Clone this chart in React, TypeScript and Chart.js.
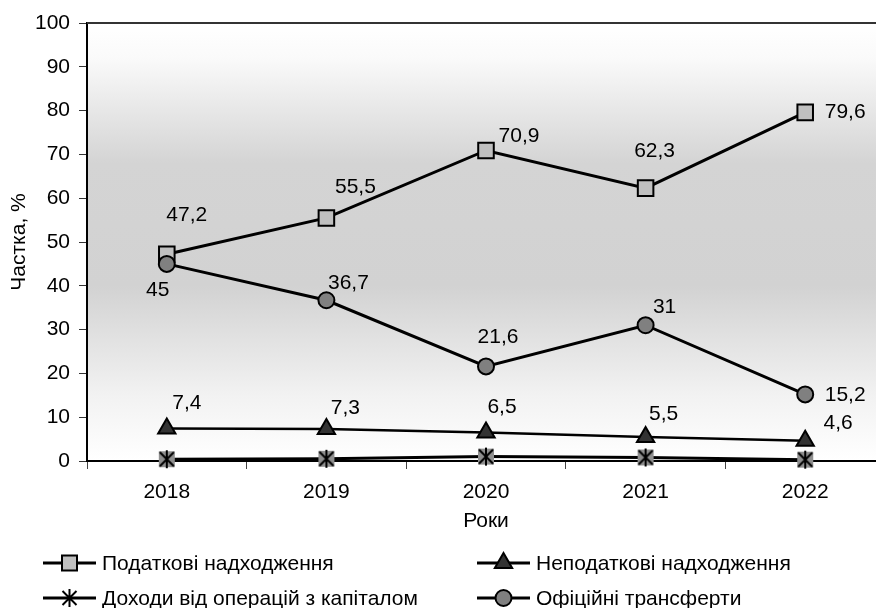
import React, { useEffect, useRef } from "react";
import { Chart, registerables } from "chart.js";

Chart.register(...registerables);

// ---- data ----
const years = ["2018", "2019", "2020", "2021", "2022"];
const taxRevenue = [47.2, 55.5, 70.9, 62.3, 79.6];
const nonTaxRevenue = [7.4, 7.3, 6.5, 5.5, 4.6];
const capitalIncome = [0.4, 0.5, 1.0, 0.8, 0.3];
const officialTransfers = [45, 36.7, 21.6, 31, 15.2];

const seriesNames = [
  "Податкові надходження",
  "Неподаткові надходження",
  "Доходи від операцій з капіталом",
  "Офіційні трансферти",
];

// label placement relative to each point (dx, dy in px)
const taxLabelOffsets = [[20, -39], [29, -31], [33, -14], [9, -37], [40, 0]];
const nonTaxLabelOffsets = [[20, -25], [19, -21], [16, -25], [18, -23], [33, -18]];
const transferLabelOffsets = [[-9, 26], [22, -17], [12, -29], [19, -18], [40, 1]];

const FONT = "'Liberation Sans', Arial, sans-serif";
const FONT_SIZE = 21;

const fmt = (v: number) => String(v).replace(".", ",");

// star marker on a grey square, used for the capital-income series
function makeCapitalMarker(withSquare: boolean): HTMLCanvasElement {
  const c = document.createElement("canvas");
  c.width = 20;
  c.height = 20;
  const g = c.getContext("2d")!;
  if (withSquare) {
    g.fillStyle = "#8f8f8f";
    g.fillRect(2, 2, 16, 16);
  }
  g.strokeStyle = "#000";
  g.lineWidth = 2;
  g.beginPath();
  g.moveTo(3, 3);
  g.lineTo(17, 17);
  g.moveTo(17, 3);
  g.lineTo(3, 17);
  g.moveTo(10, 1);
  g.lineTo(10, 19);
  g.stroke();
  return c;
}

function drawMarker(ctx: CanvasRenderingContext2D, kind: string, x: number, y: number) {
  ctx.save();
  ctx.strokeStyle = "#000";
  ctx.lineWidth = 2;
  if (kind === "square") {
    ctx.fillStyle = "#c0c0c0";
    ctx.fillRect(x - 7.5, y - 7.5, 15, 15);
    ctx.strokeRect(x - 7.5, y - 7.5, 15, 15);
  } else if (kind === "triangle") {
    const r = 10;
    ctx.fillStyle = "#333333";
    ctx.beginPath();
    ctx.moveTo(x, y - r);
    ctx.lineTo(x + r * 0.866, y + r / 2);
    ctx.lineTo(x - r * 0.866, y + r / 2);
    ctx.closePath();
    ctx.fill();
    ctx.stroke();
  } else if (kind === "circle") {
    ctx.fillStyle = "#808080";
    ctx.beginPath();
    ctx.arc(x, y, 8, 0, Math.PI * 2);
    ctx.fill();
    ctx.stroke();
  } else {
    ctx.beginPath();
    ctx.moveTo(x - 7, y - 7);
    ctx.lineTo(x + 7, y + 7);
    ctx.moveTo(x + 7, y - 7);
    ctx.lineTo(x - 7, y + 7);
    ctx.moveTo(x, y - 9);
    ctx.lineTo(x, y + 9);
    ctx.stroke();
  }
  ctx.restore();
}

const backgroundPlugin = {
  id: "areaGradient",
  beforeDraw(chart: any) {
    const { ctx, chartArea: a } = chart;
    const grad = ctx.createLinearGradient(0, a.top, 0, a.bottom);
    grad.addColorStop(0, "#ffffff");
    grad.addColorStop(0.08, "#fafafa");
    grad.addColorStop(0.32, "#d4d4d4");
    grad.addColorStop(0.6, "#d2d2d2");
    grad.addColorStop(0.85, "#f2f2f2");
    grad.addColorStop(1, "#ffffff");
    ctx.save();
    ctx.fillStyle = grad;
    ctx.fillRect(a.left, a.top, a.right - a.left, a.bottom - a.top);
    ctx.restore();
  },
  afterDraw(chart: any) {
    const { ctx, chartArea: a } = chart;
    ctx.save();
    ctx.strokeStyle = "#333333";
    ctx.lineWidth = 2;
    ctx.beginPath();
    ctx.moveTo(a.left, a.top);
    ctx.lineTo(a.right, a.top);
    ctx.stroke();
    ctx.restore();
  },
};

const valueLabelPlugin = {
  id: "valueLabels",
  afterDatasetsDraw(chart: any) {
    const { ctx } = chart;
    const sets: [number, number[][]][] = [
      [0, taxLabelOffsets],
      [1, nonTaxLabelOffsets],
      [3, transferLabelOffsets],
    ];
    ctx.save();
    ctx.font = `${FONT_SIZE}px ${FONT}`;
    ctx.fillStyle = "#000";
    ctx.textAlign = "center";
    ctx.textBaseline = "middle";
    for (const [di, offs] of sets) {
      const meta = chart.getDatasetMeta(di);
      const values = chart.data.datasets[di].data as number[];
      meta.data.forEach((pt: any, j: number) => {
        ctx.fillText(fmt(values[j]), pt.x + offs[j][0], pt.y + offs[j][1]);
      });
    }
    ctx.restore();
  },
};

const legendPlugin = {
  id: "gridLegend",
  afterDraw(chart: any) {
    const { ctx } = chart;
    const items = [
      { name: seriesNames[0], kind: "square", x: 43, y: 563 },
      { name: seriesNames[1], kind: "triangle", x: 477, y: 563 },
      { name: seriesNames[2], kind: "star", x: 43, y: 598 },
      { name: seriesNames[3], kind: "circle", x: 477, y: 598 },
    ];
    ctx.save();
    ctx.font = `${FONT_SIZE}px ${FONT}`;
    ctx.textAlign = "left";
    ctx.textBaseline = "middle";
    for (const it of items) {
      ctx.strokeStyle = "#000";
      ctx.lineWidth = 3;
      ctx.beginPath();
      ctx.moveTo(it.x, it.y);
      ctx.lineTo(it.x + 53, it.y);
      ctx.stroke();
      drawMarker(ctx, it.kind, it.x + 26.5, it.y);
      ctx.fillStyle = "#000";
      ctx.fillText(it.name, it.x + 59, it.y + 1);
    }
    ctx.restore();
  },
};

export default function App() {
  const canvasRef = useRef<HTMLCanvasElement | null>(null);

  useEffect(() => {
    const canvas = canvasRef.current;
    if (!canvas) return;
    const font = { family: FONT, size: FONT_SIZE };
    const capitalMarker = makeCapitalMarker(true);

    const chart = new Chart(canvas, {
      type: "line",
      data: {
        labels: years,
        datasets: [
          {
            label: seriesNames[0],
            data: taxRevenue,
            borderColor: "#000",
            borderWidth: 3,
            pointStyle: "rect",
            pointRadius: 11,
            pointHoverRadius: 11,
            pointBackgroundColor: "#c0c0c0",
            pointBorderColor: "#000",
            pointBorderWidth: 2,
            clip: false,
            order: 1,
          },
          {
            label: seriesNames[1],
            data: nonTaxRevenue,
            borderColor: "#000",
            borderWidth: 2.5,
            pointStyle: "triangle",
            pointRadius: 10,
            pointHoverRadius: 10,
            pointBackgroundColor: "#333333",
            pointBorderColor: "#000",
            pointBorderWidth: 2,
            clip: false,
            order: 2,
          },
          {
            label: seriesNames[2],
            data: capitalIncome,
            borderColor: "#000",
            borderWidth: 3,
            pointStyle: capitalMarker,
            pointRadius: 10,
            pointHoverRadius: 10,
            clip: false,
            order: 3,
          },
          {
            label: seriesNames[3],
            data: officialTransfers,
            borderColor: "#000",
            borderWidth: 3,
            pointStyle: "circle",
            pointRadius: 8,
            pointHoverRadius: 8,
            pointBackgroundColor: "#808080",
            pointBorderColor: "#000",
            pointBorderWidth: 2,
            clip: false,
            order: 0,
          },
        ] as any,
      },
      options: {
        responsive: false,
        animation: false,
        events: [],
        layout: { padding: { top: 23, right: 0, bottom: 72, left: 0 } },
        plugins: {
          legend: { display: false },
          tooltip: { enabled: false },
        },
        scales: {
          x: {
            type: "category",
            offset: true,
            grid: {
              display: true,
              drawOnChartArea: false,
              offset: true,
              tickLength: 8,
              color: "#444",
              lineWidth: 1,
            },
            border: { display: true, color: "#000", width: 2 },
            ticks: { font, color: "#000", padding: 11, maxRotation: 0, autoSkip: false },
            title: {
              display: true,
              text: "Роки",
              font,
              color: "#000",
              padding: { top: 0, bottom: 2 },
            },
            afterFit: (s: any) => {
              s.height = 75;
            },
          },
          y: {
            min: 0,
            max: 100,
            grid: {
              display: true,
              drawOnChartArea: false,
              tickLength: 8,
              color: "#333",
              lineWidth: 1,
            },
            border: { display: true, color: "#000", width: 2 },
            ticks: { font, color: "#000", padding: 9, stepSize: 10 },
            title: {
              display: true,
              text: "Частка, %",
              font,
              color: "#000",
              padding: { top: 7, bottom: 0 },
            },
            afterFit: (s: any) => {
              s.width = 87;
            },
          },
        },
      },
      plugins: [backgroundPlugin, valueLabelPlugin, legendPlugin],
    });

    return () => chart.destroy();
  }, []);

  return (
    <div
      style={{
        position: "fixed",
        left: 0,
        top: 0,
        width: 876,
        height: 608,
        overflow: "hidden",
        background: "#fff",
      }}
    >
      <canvas ref={canvasRef} width={898} height={608} style={{ display: "block" }} />
    </div>
  );
}
